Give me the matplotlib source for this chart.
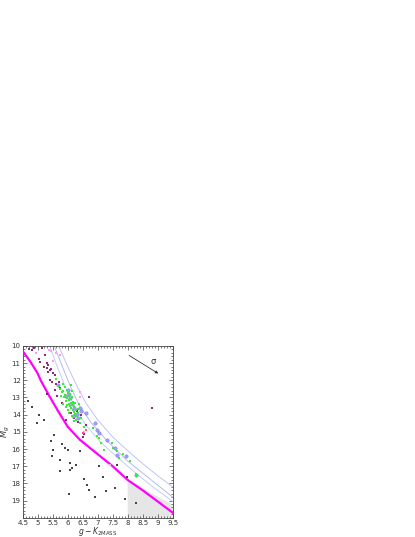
import matplotlib
matplotlib.use("Agg")
import matplotlib.pyplot as plt
import numpy as np
from matplotlib.ticker import MultipleLocator

# lower-limit sequence (magenta)
mag_x = [4.5, 4.75, 5.0, 5.1, 5.35, 5.7, 6.0, 6.4, 7.0, 7.5, 8.0, 8.5, 9.0, 9.5]
mag_y = [10.3, 10.9, 11.6, 12.0, 12.8, 13.85, 14.7, 15.45, 16.3, 17.0, 17.8, 18.4, 19.05, 19.7]

# model tracks (thin blue)
trk_a_x = [5.7, 6.0, 6.3, 6.6, 7.0, 7.5, 8.0, 8.5, 9.0, 9.5]
trk_a_y = [10.0, 11.2, 12.3, 13.3, 14.3, 15.3, 16.1, 16.85, 17.55, 18.2]
trk_b_x = [5.55, 5.8, 6.1, 6.4, 6.8, 7.3, 8.0, 8.5, 9.0, 9.5]
trk_b_y = [10.0, 11.1, 12.4, 13.5, 14.5, 15.5, 16.7, 17.4, 18.1, 18.8]
trk_c_x = [5.4, 5.65, 5.95, 6.25, 6.6, 7.1, 7.6, 8.2, 8.8, 9.5]
trk_c_y = [10.0, 11.2, 12.5, 13.6, 14.6, 15.6, 16.4, 17.3, 18.15, 19.05]

# shaded incomplete region
shade_x = [8.0, 9.5, 9.5, 8.0]
shade_y = [17.8, 19.25, 20.0, 20.0]

# field stars (black dots)
blk_x = [4.8, 5.06, 4.98, 5.43, 5.52, 5.47, 5.76, 5.9, 6.01, 6.09, 6.16, 5.74, 6.08,
         6.66, 6.7, 6.91, 7.28, 7.19, 7.58, 7.97, 8.28, 7.63, 5.56, 5.82, 6.29, 6.4,
         4.68, 5.3, 6.55, 7.9, 6.05, 5.2, 7.05]
blk_y = [13.53, 14.01, 14.5, 15.52, 16.05, 16.43, 16.63, 15.92, 16.05, 16.82, 17.11,
         17.3, 17.21, 18.08, 18.37, 18.82, 18.47, 17.6, 18.28, 17.6, 19.15, 16.92,
         15.2, 15.7, 16.92, 16.1, 13.2, 12.8, 17.75, 18.9, 18.6, 14.3, 17.0]

# purple dots
pur_x = [4.7, 4.81, 4.87, 5.14, 5.06, 5.09, 5.3, 5.31, 5.4, 5.35, 5.52, 5.58, 5.41,
         5.47, 5.58, 5.2, 5.25, 5.7, 5.65, 6.72, 8.8, 5.9, 6.1, 6.3, 6.2, 6.45, 6.6,
         6.35, 6.55, 5.8, 5.95, 6.5, 5.36, 5.45, 5.62, 5.75]
pur_y = [10.17, 10.23, 10.14, 10.14, 10.76, 10.91, 11.0, 11.3, 11.4, 11.49, 11.59,
         11.69, 11.98, 12.07, 12.56, 11.2, 10.5, 12.1, 12.9, 12.95, 13.59, 13.0, 13.9,
         13.8, 14.2, 14.0, 14.6, 14.4, 15.1, 13.3, 14.3, 15.3, 11.1, 11.35, 12.2, 12.45]

# pink dots
pnk_x = [5.37, 5.44, 5.73, 5.62, 5.5, 6.12, 6.4, 6.55, 7.4, 6.0, 4.95, 6.4]
pnk_y = [10.23, 10.27, 10.52, 10.4, 10.9, 12.3, 13.0, 15.0, 16.9, 12.7, 10.4, 12.7]

# green squares
grn_x = [5.61, 5.72, 5.74, 5.8, 5.85, 5.88, 5.92, 5.95, 5.98, 6.0, 6.03, 6.05, 6.08,
         6.1, 6.12, 6.15, 6.18, 6.2, 6.22, 6.25, 6.28, 6.3, 6.33, 5.9, 5.97, 6.02,
         6.07, 6.13, 6.17, 6.24, 6.35, 6.27, 6.54, 6.83, 6.97, 7.06, 7.11, 7.21,
         7.48, 7.52, 7.66, 7.72, 7.85, 8.08, 8.28, 8.3, 6.4, 6.45, 5.83, 6.1,
         5.78, 5.86, 5.94, 6.0, 6.06, 6.14, 6.21, 6.32, 6.38, 6.16, 6.09, 5.99]
grn_y = [11.94, 12.36, 12.5, 12.7, 12.65, 13.0, 12.85, 13.2, 13.05, 12.9, 13.35,
         13.15, 13.5, 13.3, 13.6, 13.45, 13.7, 13.85, 13.55, 13.95, 13.75, 14.1,
         13.9, 12.4, 12.55, 12.75, 13.1, 13.0, 13.25, 13.3, 13.65, 14.3, 14.69,
         14.75, 15.27, 15.37, 15.66, 16.05, 15.62, 15.95, 16.14, 16.5, 16.3, 16.72,
         17.46, 17.55, 14.5, 14.2, 12.2, 12.3,
         12.9, 13.35, 13.55, 13.75, 13.9, 14.05, 14.35, 14.05, 13.4, 12.65, 12.8, 13.45]

# blue circles
blu_x = [5.68, 6.02, 6.08, 6.14, 6.2, 6.41, 6.46, 6.6, 6.97, 7.03, 7.32, 7.59, 7.63,
         7.94, 8.29, 6.25, 6.3, 6.05, 6.18, 6.9, 5.95, 6.36]
blu_y = [12.25, 12.56, 13.05, 13.35, 13.6, 13.62, 13.81, 13.9, 14.92, 15.07, 15.48,
         15.95, 16.34, 16.43, 17.5, 14.0, 13.95, 12.8, 14.1, 14.5, 12.9, 14.2]

# red squares
red_x = [6.62, 6.52]
red_y = [14.92, 15.05]

fig = plt.figure(figsize=(4.15, 5.37), dpi=100)
ax = fig.add_axes([0.0547, 0.0358, 0.3614, 0.3200])

ax.fill(shade_x, shade_y, color="#e6e6e6", lw=0, zorder=1)
for tx, ty, c in [(trk_a_x, trk_a_y, "#b4bcf6"), (trk_b_x, trk_b_y, "#a8b0f2"),
                  (trk_c_x, trk_c_y, "#b8c8f6")]:
    ax.plot(tx, ty, color=c, lw=0.6, zorder=2)
ax.plot(mag_x, mag_y, color="#ff00ff", lw=1.6, zorder=3)

ax.scatter(blk_x, blk_y, s=0.6, c="#444444", marker="s", lw=0, zorder=4)
ax.scatter(pnk_x, pnk_y, s=2.5, c="#ff99ff", marker="s", lw=0, zorder=4)
ax.scatter(pur_x, pur_y, s=1.8, c="#8a2a7a", marker="s", lw=0, zorder=4)
ax.scatter(blu_x, blu_y, s=6, c="#a0a0ff", edgecolors="#7070e0", marker="o",
           lw=0.3, zorder=5)
ax.scatter(grn_x, grn_y, s=4, c="#33ee33", marker="s", lw=0, zorder=6)
ax.scatter(red_x, red_y, s=4, c="#ff5555", marker="s", lw=0, zorder=6)

ax.annotate("", xy=(9.1, 11.69), xytext=(7.97, 10.47),
            arrowprops=dict(arrowstyle="-|>", color="#333333", lw=0.6,
                            mutation_scale=4))
ax.text(8.85, 10.9, "σ", fontsize=6, color="#333333", ha="center", va="center")

ax.set_xlim(4.5, 9.5)
ax.set_ylim(20, 10)
ax.xaxis.set_minor_locator(MultipleLocator(0.1))
ax.yaxis.set_minor_locator(MultipleLocator(0.2))
ax.set_xticks(np.arange(4.5, 9.51, 0.5))
ax.set_xticklabels(["4.5", "5", "5.5", "6", "6.5", "7", "7.5", "8", "8.5", "9", "9.5"])
ax.set_yticks(np.arange(10, 20, 1))
ax.set_yticklabels([str(v) for v in range(10, 20)])
ax.tick_params(which="both", direction="in", top=True, right=True,
               color="#444444", width=0.5)
ax.tick_params(which="major", length=3, labelsize=5, labelcolor="#333333", pad=1.5)
ax.tick_params(which="minor", length=1.5)
for sp in ax.spines.values():
    sp.set_linewidth(0.6)
    sp.set_color("#444444")

ax.set_xlabel(r"$g-K_{\rm 2MASS}$", fontsize=5.5, color="#333333", labelpad=-0.5)
ax.set_ylabel(r"$M_g$", fontsize=6, color="#333333", labelpad=0)

fig.savefig("out.png", dpi=100)
